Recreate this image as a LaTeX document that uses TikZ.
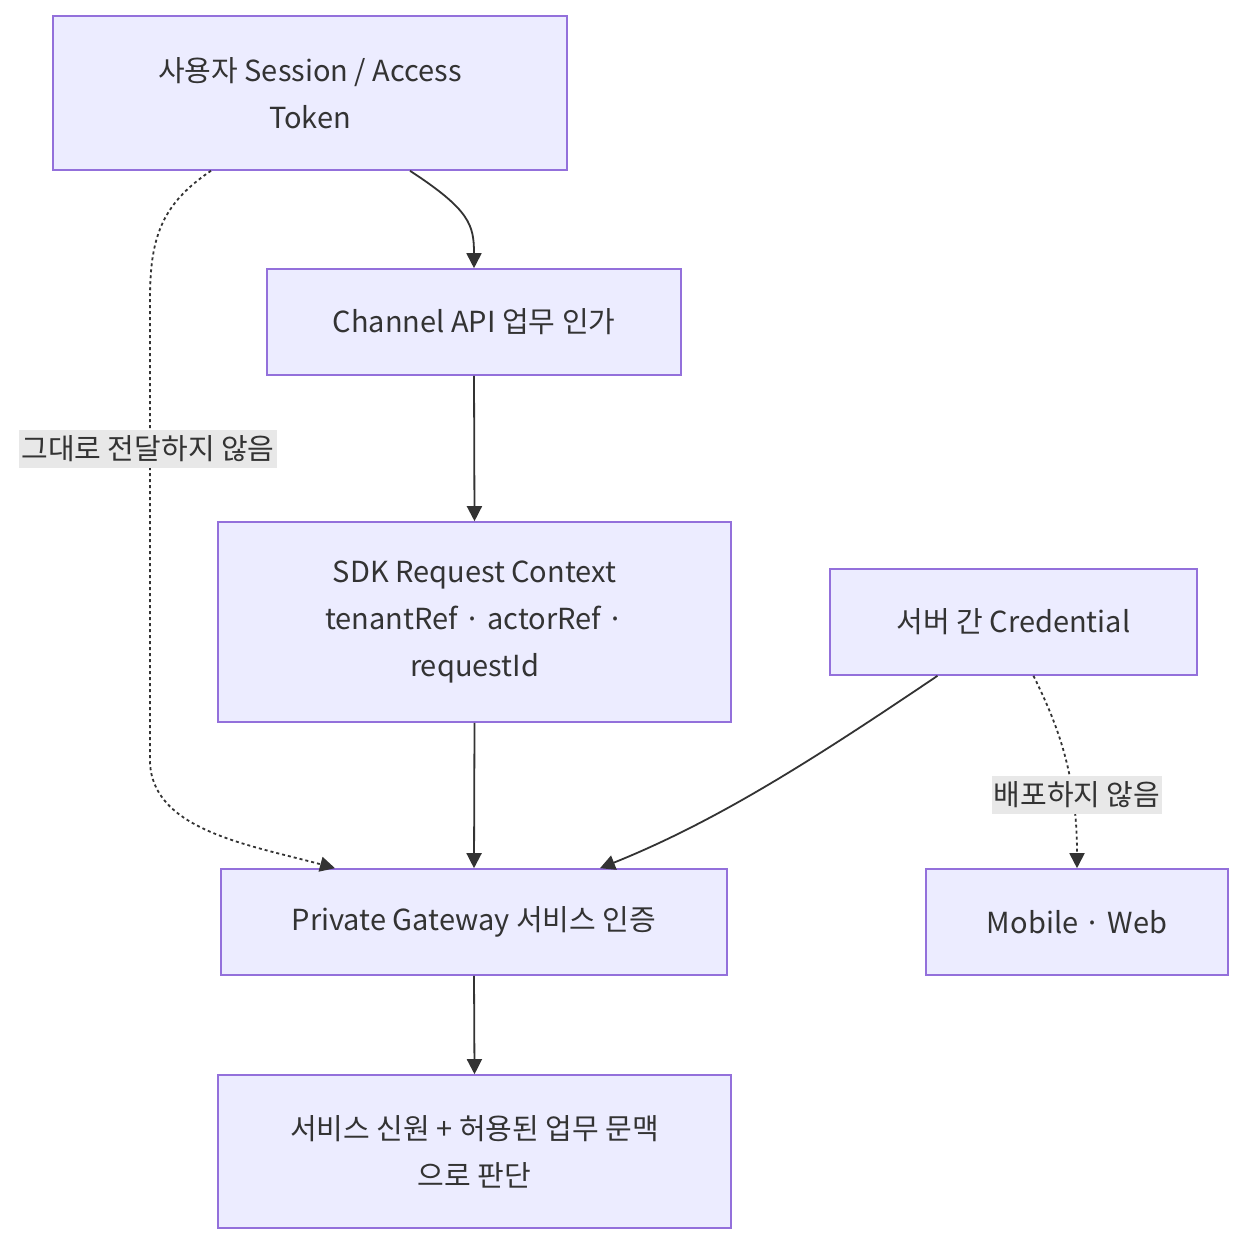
\documentclass[tikz,border=0pt]{standalone}
\usepackage{fontspec}
\setmainfont{Noto Sans CJK KR}
\usetikzlibrary{arrows.meta}
\definecolor{nfill}{HTML}{ECECFF}
\definecolor{nline}{HTML}{9370DB}
\definecolor{ink}{HTML}{333333}
\definecolor{lbg}{HTML}{E8E8E8}
\begin{document}
\begin{tikzpicture}[x=1pt,y=-1pt,
  box/.style={draw=nline,fill=nfill,line width=1.6pt,text=ink,align=center,
    font=\fontsize{29}{47}\selectfont,inner sep=0pt},
  lbl/.style={fill=lbg,text=ink,font=\fontsize{29}{47}\selectfont,inner xsep=2pt,inner ysep=6pt},
  conn/.style={draw=ink,line width=1.8pt,-{Triangle[length=15pt,width=15pt]}},
  dot/.style={conn,dash pattern=on 3pt off 3pt}]
\useasboundingbox (0,0) rectangle (1260,1260);
\fill[white] (0,0) rectangle (1260,1260);
\node[box,minimum width=514pt,minimum height=154pt] (n1) at (310,93) {사용자 Session~/ Access\\Token};
\node[box,minimum width=414pt,minimum height=106pt] (n2) at (474,322) {Channel API 업무 인가};
\node[box,minimum width=513pt,minimum height=200pt] (n3) at (474.5,622) {SDK Request Context\\tenantRef · actorRef ·\\requestId};
\node[box,minimum width=367pt,minimum height=106pt] (n4) at (1013.5,622) {서버 간 Credential};
\node[box,minimum width=506pt,minimum height=106pt] (n5) at (474,922) {Private Gateway 서비스 인증};
\node[box,minimum width=302pt,minimum height=106pt] (n6) at (1077,922) {Mobile · Web};
\node[box,minimum width=513pt,minimum height=153pt] (n7) at (474.5,1151.5) {서비스 신원 + 허용된 업무 문맥\\으로 판단};
% edges
\draw[conn] ([xshift=100pt]n1.south) .. controls (470,210) and (474,225) .. (n2.north);
\draw[conn] (n2.south) -- (n3.north);
\draw[conn] (n3.south) -- (n5.north);
\draw[conn] (n5.south) -- (n7.north);
\draw[conn] ([xshift=-76pt]n4.south) .. controls (820,755) and (720,820) .. ([xshift=126pt]n5.north);
\coordinate (c1) at (150,300);
\coordinate (c2) at (150,760);
\draw[dot] ([xshift=-99pt]n1.south) .. controls (160,205) and (150,240) .. (c1) -- (c2) .. controls (150,830) and (250,845) .. ([xshift=-139pt]n5.north);
\draw[dot] ([xshift=20pt]n4.south) .. controls (1055,720) and (1077,770) .. (n6.north);
\node[lbl] (l1) at (148,449) {그대로 전달하지 않음};
\node[lbl] (l2) at (1077,795) {배포하지 않음};
\end{tikzpicture}
\end{document}
